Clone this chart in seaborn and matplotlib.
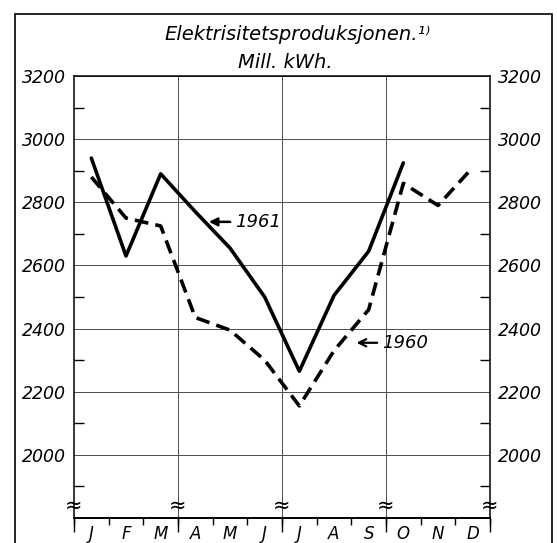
import numpy as np
import pandas as pd
import matplotlib.pyplot as plt
import seaborn as sns
from matplotlib.patches import Rectangle

# monthly electricity production, mill. kWh
months = ['J', 'F', 'M', 'A', 'M', 'J', 'J', 'A', 'S', 'O', 'N', 'D']
prod_1960 = [2880, 2750, 2725, 2435, 2395, 2300, 2155, 2330, 2460, 2860, 2790, 2910]
prod_1961 = [2940, 2630, 2890, 2770, 2655, 2500, 2265, 2505, 2645, 2925]
yticks = [2000, 2200, 2400, 2600, 2800, 3000, 3200]
yminor = [1900, 2100, 2300, 2500, 2700, 2900, 3100]
quarter_edges = [-0.5, 2.5, 5.5, 8.5, 11.5]

df = pd.concat([
    pd.DataFrame({'month': range(len(prod_1960)), 'value': prod_1960, 'year': '1960'}),
    pd.DataFrame({'month': range(len(prod_1961)), 'value': prod_1961, 'year': '1961'}),
])

sns.set_style('white')
plt.rcParams['font.family'] = ['DejaVu Sans']
plt.rcParams['font.style'] = 'italic'
plt.rcParams['text.color'] = 'black'
plt.rcParams['xtick.color'] = 'black'
plt.rcParams['ytick.color'] = 'black'
plt.rcParams['xtick.labelcolor'] = 'black'
plt.rcParams['ytick.labelcolor'] = 'black'

fig = plt.figure(figsize=(5.57, 5.43), dpi=100)
ax = fig.add_axes([74 / 557, 1 - 518 / 543, 416 / 557, 442 / 543])

sns.lineplot(data=df, x='month', y='value', style='year',
             dashes={'1960': (3.8, 2.0), '1961': ''},
             color='black', linewidth=2.6, legend=False, ax=ax)

ax.set_xlim(-0.5, 11.5)
ax.set_ylim(1800, 3200)
ax.set_xlabel('')
ax.set_ylabel('')

# grid
for x in quarter_edges[1:-1]:
    ax.axvline(x, color='0.3', lw=0.7, zorder=0)
ax.set_yticks(yticks)
ax.set_yticks(yminor, minor=True)
ax.grid(axis='y', which='major', color='0.3', lw=0.7)
ax.tick_params(axis='y', which='major', length=0, labelsize=12.5,
               left=True, right=True, labelleft=True, labelright=True, pad=6)
ax.tick_params(axis='y', which='minor', direction='in', length=7,
               width=1, left=True, right=True)

ax.set_xticks(range(12))
ax.set_xticklabels(months)
ax.set_xticks(np.arange(-0.5, 12), minor=True)
ax.tick_params(axis='x', which='major', length=0, labelsize=12, pad=5)
ax.tick_params(axis='x', which='minor', direction='out', length=5,
               width=1, bottom=True)

sec = ax.secondary_xaxis('bottom')
sec.set_xticks(quarter_edges)
sec.tick_params(length=10, width=1, direction='out', labelbottom=False)
sec.spines['bottom'].set_linewidth(1.3)

for s in ax.spines.values():
    s.set_color('black')
    s.set_linewidth(1.1)
ax.spines['bottom'].set_linewidth(1.3)

# axis break marks
for x in quarter_edges:
    ax.text(x, 1840, '≈', ha='center', va='center', fontsize=15, style='normal')

ax.annotate('1961', xy=(3.39, 2738), xytext=(4.14, 2738),
            ha='left', va='center', fontsize=13,
            arrowprops=dict(arrowstyle='-|>', color='black', lw=1.8,
                            mutation_scale=12, shrinkA=1, shrinkB=0))
ax.annotate('1960', xy=(7.65, 2355), xytext=(8.38, 2355),
            ha='left', va='center', fontsize=13,
            arrowprops=dict(arrowstyle='->', color='black', lw=1.6,
                            shrinkA=1, shrinkB=0))

fig.text(0.535, 1 - 34 / 543, 'Elektrisitetsproduksjonen.¹⁾', ha='center', va='center', fontsize=14)
fig.text(0.513, 1 - 63 / 543, 'Mill. kWh.', ha='center', va='center', fontsize=14)

fig.add_artist(Rectangle((15 / 557, -0.1), 537 / 557, 1.1 - 14 / 543,
                         transform=fig.transFigure, fill=False, lw=1.2, color='black'))

fig.savefig('out.png', dpi=100)
